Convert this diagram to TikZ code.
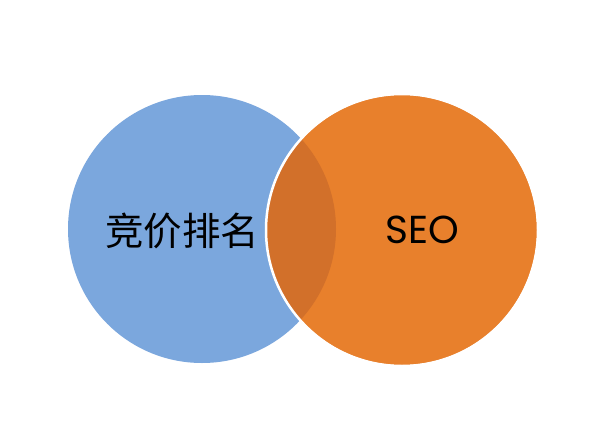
\documentclass[tikz,border=0pt]{standalone}
\usepackage{fontspec}
\newfontfamily\cjk{Noto Sans CJK SC}
\newfontfamily\latinf{Poppins}
\definecolor{cblue}{HTML}{7BA7DD}
\definecolor{corange}{HTML}{E8802C}
\definecolor{cover}{HTML}{D2702A}
\tikzset{
  lbl/.style={inner sep=0pt, text=black}
}
\begin{document}
\begin{tikzpicture}[x=1pt,y=-1pt]
\useasboundingbox[fill=white] (0,0) rectangle (603,429);
\path[fill=cblue] (202,229) circle (134);
\path[fill=corange] (402,230) circle (135);
\begin{scope}
  \clip (202,229) circle (134);
  \path[fill=cover] (402,230) circle (135);
\end{scope}
\draw[white, line width=2.5pt] (402,230) circle (136);
\node[lbl, font=\cjk\fontsize{38.5}{41}\selectfont] (a) at (182,231) {竞价排名};
\node[lbl, font=\latinf\fontsize{39}{42}\selectfont] (b) at (422,230) {SEO};
\end{tikzpicture}
\end{document}
